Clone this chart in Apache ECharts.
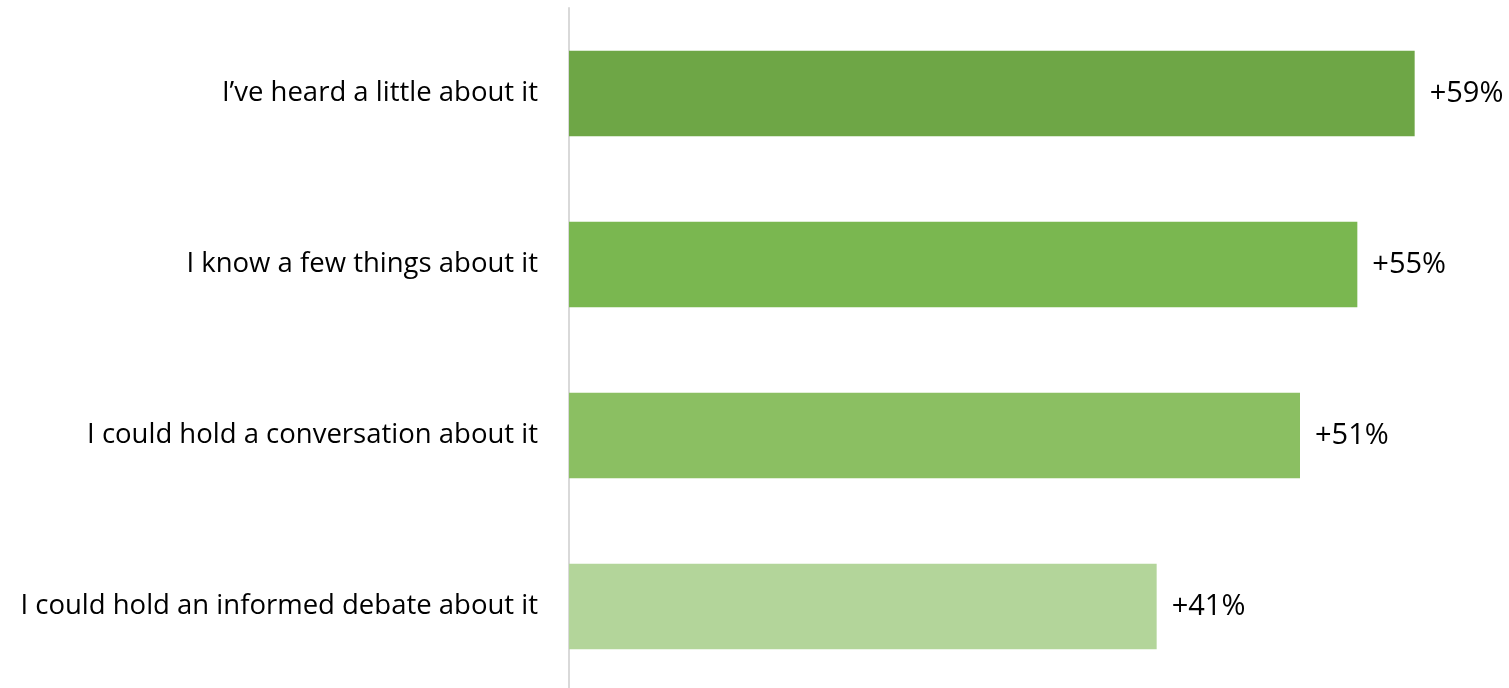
<!DOCTYPE html>
<html>
<head>
<meta charset="utf-8">
<script src="https://cdn.jsdelivr.net/npm/echarts@6/dist/echarts.min.js"></script>
<style>
  html, body { margin: 0; padding: 0; background: #ffffff; }
  #chart { width: 1509px; height: 688px; }
</style>
</head>
<body>
<div id="chart"></div>
<script>
// Self-reported knowledge levels and their net scores
const categories = [
  'I\u2019ve heard a little about it',
  'I know a few things about it',
  'I could hold a conversation about it',
  'I could hold an informed debate about it'
];
const values = [59, 55, 51, 41];
const barColors = ['#6ea646', '#7ab750', '#8bbf62', '#b3d59a'];

const FONT = '"Open Sans", "Noto Sans", sans-serif';

const chart = echarts.init(document.getElementById('chart'), null, { renderer: 'canvas' });
chart.setOption({
  animation: false,
  backgroundColor: '#ffffff',
  grid: {
    left: 569, top: 8, width: 946, height: 684,
    outerBoundsMode: 'none'
  },
  xAxis: {
    type: 'value',
    min: 0,
    max: 66,
    show: false
  },
  yAxis: {
    type: 'category',
    data: categories,
    inverse: true,
    axisLine: { show: true, lineStyle: { color: '#d9d9d9', width: 2 } },
    axisTick: { show: false },
    axisLabel: {
      margin: 31,
      color: '#000000',
      fontFamily: FONT,
      fontSize: 27.5
    }
  },
  series: [{
    type: 'bar',
    barWidth: '50%',
    data: values.map((v, i) => ({ value: v, itemStyle: { color: barColors[i] } })),
    label: {
      show: true,
      position: 'right',
      distance: 15,
      color: '#000000',
      fontFamily: FONT,
      fontSize: 29,
      formatter: p => '+' + p.value + '%'
    }
  }]
});
</script>
</body>
</html>
